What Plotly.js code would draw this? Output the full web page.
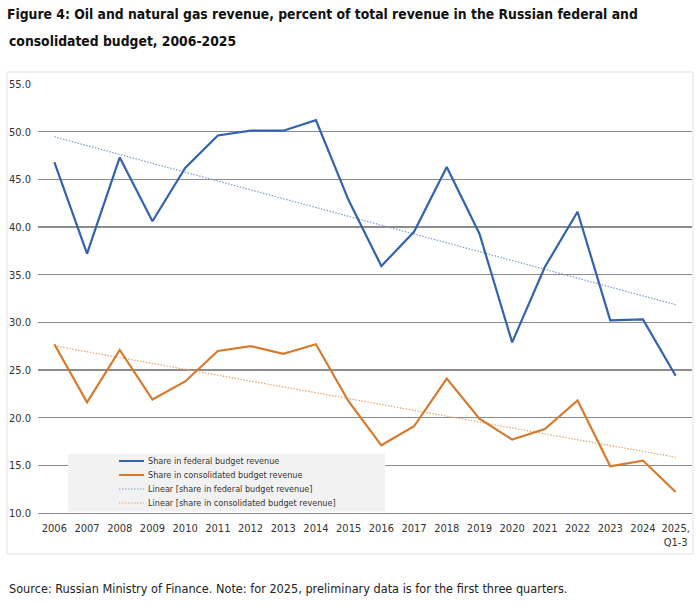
<!DOCTYPE html>
<html>
<head>
<meta charset="utf-8">
<script src="https://cdn.plot.ly/plotly-3.0.1.min.js"></script>
<style>
  html, body { margin: 0; padding: 0; background: #fff; }
  #chart { width: 700px; height: 607px; }
</style>
</head>
<body>
<div id="chart"></div>
<script>
// data
var years = ['2006', '2007', '2008', '2009', '2010', '2011', '2012', '2013', '2014', '2015',
             '2016', '2017', '2018', '2019', '2020', '2021', '2022', '2023', '2024', '2025,<br>Q1-3'];
var federalShare = [46.8, 37.2, 47.3, 40.6, 46.2, 49.6, 50.1, 50.1, 51.2, 42.8,
                    35.9, 39.5, 46.3, 39.3, 27.9, 35.8, 41.6, 30.2, 30.3, 24.4];
var consolidatedShare = [27.7, 21.6, 27.1, 21.9, 23.8, 27.0, 27.5, 26.7, 27.7, 21.7,
                         17.1, 19.1, 24.1, 19.9, 17.7, 18.8, 21.8, 14.9, 15.5, 12.2];
var seriesNames = ['Share in federal budget revenue',
                   'Share in consolidated budget revenue',
                   'Linear [share in federal budget revenue]',
                   'Linear [share in consolidated budget revenue]'];

var blue = '#3363ad';
var orange = '#d67a2e';
var blueTrend = '#7f9ccc';
var orangeTrend = '#e3a56e';
var gridGrey = '#8c8c8c';
var fontFam = '"DejaVu Sans Condensed", "Liberation Sans Narrow", "Arial Narrow", sans-serif';
var fineDots = '1.5px,1.5px';

// least squares line, same as the spreadsheet trendline
function linearFit(vals) {
    var n = vals.length, sx = 0, sy = 0, sxx = 0, sxy = 0;
    for (var i = 0; i < n; i++) {
        sx += i; sy += vals[i]; sxx += i * i; sxy += i * vals[i];
    }
    var slope = (n * sxy - sx * sy) / (n * sxx - sx * sx);
    var icpt = (sy - slope * sx) / n;
    return vals.map(function(v, i) { return icpt + slope * i; });
}

// plot area in page pixels
var L = 38, R = 8, T = 84, B = 94;
var W = 700 - L - R, H = 607 - T - B;
function px(x) { return (x - L) / W; }
function py(y) { return (607 - B - y) / H; }

var traces = [
    {x: years, y: linearFit(federalShare), name: seriesNames[2], type: 'scatter', mode: 'lines',
     line: {color: blueTrend, width: 1.2, dash: fineDots}, hoverinfo: 'skip'},
    {x: years, y: linearFit(consolidatedShare), name: seriesNames[3], type: 'scatter', mode: 'lines',
     line: {color: orangeTrend, width: 1.2, dash: fineDots}, hoverinfo: 'skip'},
    {x: years, y: federalShare, name: seriesNames[0], type: 'scatter', mode: 'lines',
     line: {color: blue, width: 2.2}},
    {x: years, y: consolidatedShare, name: seriesNames[1], type: 'scatter', mode: 'lines',
     line: {color: orange, width: 2.2}}
];

// hand made legend box (the chart's legend is tighter than plotly's own)
var legendRows = [461, 475, 489, 503];
var legendStyles = [
    {color: blue, width: 2, dash: 'solid'},
    {color: orange, width: 2, dash: 'solid'},
    {color: blueTrend, width: 1.2, dash: fineDots},
    {color: orangeTrend, width: 1.2, dash: fineDots}
];

var shapes = [
    // outer frame of the chart
    {type: 'rect', xref: 'paper', yref: 'paper', x0: px(7), x1: px(693), y0: py(554), y1: py(72),
     line: {color: '#e2e2e2', width: 1}, layer: 'below'},
    // legend background
    {type: 'rect', xref: 'paper', yref: 'paper', x0: px(68), x1: px(385), y0: py(511.5), y1: py(454),
     fillcolor: '#f2f2f2', line: {width: 0}, layer: 'above'}
];
var annotations = [
    {text: 'consolidated budget, 2006-2025', xref: 'paper', yref: 'paper',
     x: px(7), y: py(41), xanchor: 'left', yanchor: 'middle', showarrow: false,
     font: {family: fontFam, size: 13.8, color: '#111', weight: 'bold'}},
    {text: 'Source: Russian Ministry of Finance. Note: for 2025, preliminary data is for the first three quarters.',
     xref: 'paper', yref: 'paper', x: px(7), y: py(588), xanchor: 'left', yanchor: 'middle',
     showarrow: false, font: {family: fontFam, size: 12.6, color: '#222'}}
];
legendRows.forEach(function(rowY, k) {
    shapes.push({type: 'line', xref: 'paper', yref: 'paper', x0: px(119), x1: px(144),
                 y0: py(rowY), y1: py(rowY), line: legendStyles[k], layer: 'above'});
    annotations.push({text: seriesNames[k], xref: 'paper', yref: 'paper', x: px(146), y: py(rowY),
                      xanchor: 'left', yanchor: 'middle', showarrow: false,
                      font: {family: fontFam, size: 9, color: '#333'}});
});

var layout = {
    width: 700,
    height: 607,
    margin: {l: L, r: R, t: T, b: B},
    paper_bgcolor: '#fff',
    plot_bgcolor: '#fff',
    showlegend: false,
    font: {family: fontFam, size: 11, color: '#333'},
    title: {
        text: 'Figure 4: Oil and natural gas revenue, percent of total revenue in the Russian federal and',
        x: 7 / 700, xanchor: 'left', y: 1 - 14 / 607, yanchor: 'middle',
        font: {family: fontFam, size: 13.8, color: '#111', weight: 'bold'}
    },
    xaxis: {
        type: 'category',
        range: [-0.5, years.length - 0.5],
        showgrid: false,
        showline: true,
        linecolor: gridGrey,
        linewidth: 1.3,
        ticks: '',
        tickangle: 0,
        ticklabelstandoff: 4,
        tickfont: {size: 11, color: '#333'},
        fixedrange: true
    },
    yaxis: {
        range: [10, 55],
        dtick: 5,
        tick0: 10,
        tickformat: '.1f',
        showgrid: true,
        gridcolor: gridGrey,
        gridwidth: 1.3,
        zeroline: false,
        showline: false,
        ticks: '',
        ticklabelstandoff: 6,
        tickfont: {size: 11, color: '#333'},
        fixedrange: true
    },
    shapes: shapes,
    annotations: annotations
};

Plotly.newPlot('chart', traces, layout, {displayModeBar: false, staticPlot: true});
</script>
</body>
</html>
